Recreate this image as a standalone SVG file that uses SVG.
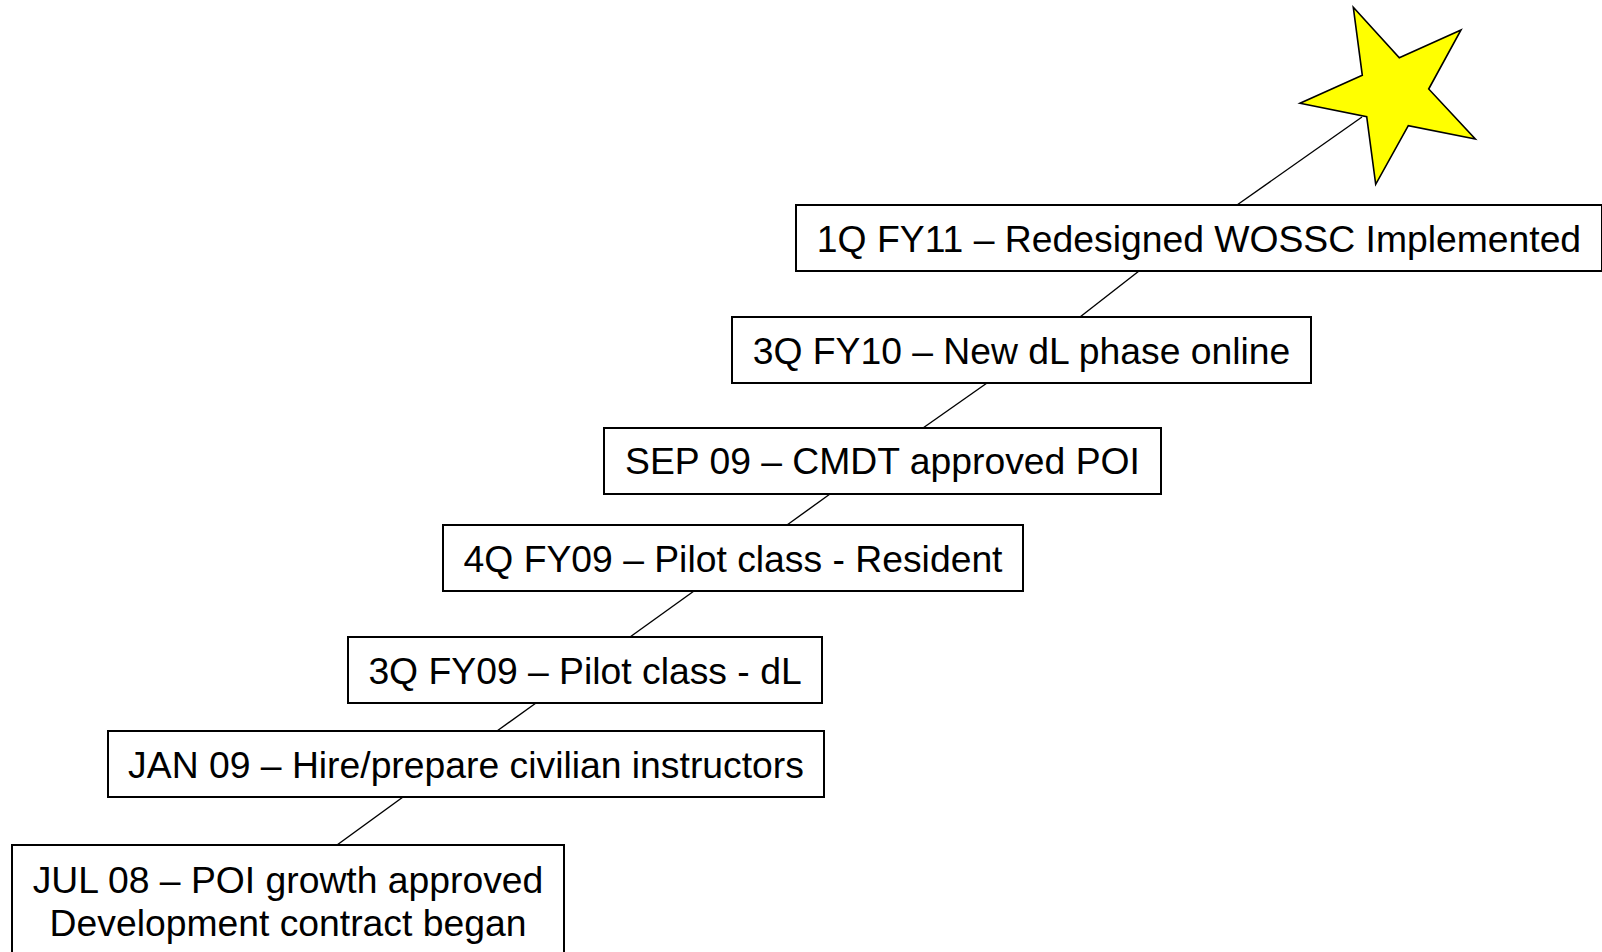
<svg xmlns="http://www.w3.org/2000/svg" width="1602" height="952" viewBox="0 0 1602 952">
<style>
.box{fill:#fff;stroke:#000;stroke-width:2}
.t{font-family:"Liberation Sans",Arial,sans-serif;font-size:37.3px;fill:#000;text-anchor:middle}
.c{stroke:#000;stroke-width:1.4;fill:none}
</style>
<rect width="1602" height="952" fill="#fff"/>
<g id="connectors">
<line class="c" x1="1237" y1="205" x2="1362" y2="117"/>
<line class="c" x1="1139" y1="271" x2="1080" y2="317"/>
<line class="c" x1="987" y1="383" x2="923" y2="428"/>
<line class="c" x1="830" y1="494" x2="787" y2="525"/>
<line class="c" x1="694" y1="591" x2="630" y2="637"/>
<line class="c" x1="536" y1="703" x2="497" y2="731"/>
<line class="c" x1="403" y1="797" x2="337" y2="845"/>
</g>
<g id="star">
<polygon points="1353.3,7.3 1399.3,57.7 1461,30 1428.7,89 1475.3,139 1408.3,125.7 1375.7,184.3 1366.7,116.7 1300,103.3 1362.3,75.3" fill="#ffff00" stroke="#000" stroke-width="1.6" stroke-linejoin="miter"/>
</g>
<g id="n1">
<rect class="box" x="796" y="205" width="806" height="66"/>
<text class="t" x="1199" y="252">1Q FY11 – Redesigned WOSSC Implemented</text>
</g>
<g id="n2">
<rect class="box" x="732" y="317" width="579" height="66"/>
<text class="t" x="1021.5" y="364">3Q FY10 – New dL phase online</text>
</g>
<g id="n3">
<rect class="box" x="604" y="428" width="557" height="66"/>
<text class="t" x="882.5" y="474">SEP 09 – CMDT approved POI</text>
</g>
<g id="n4">
<rect class="box" x="443" y="525" width="580" height="66"/>
<text class="t" x="733" y="572">4Q FY09 – Pilot class - Resident</text>
</g>
<g id="n5">
<rect class="box" x="348" y="637" width="474" height="66"/>
<text class="t" x="585" y="684">3Q FY09 – Pilot class - dL</text>
</g>
<g id="n6">
<rect class="box" x="108" y="731" width="716" height="66"/>
<text class="t" x="466" y="778">JAN 09 – Hire/prepare civilian instructors</text>
</g>
<g id="n7">
<rect class="box" x="12" y="845" width="552" height="130"/>
<text class="t" x="288" y="893">JUL 08 – POI growth approved</text>
<text class="t" x="288" y="936">Development contract began</text>
</g>
</svg>
